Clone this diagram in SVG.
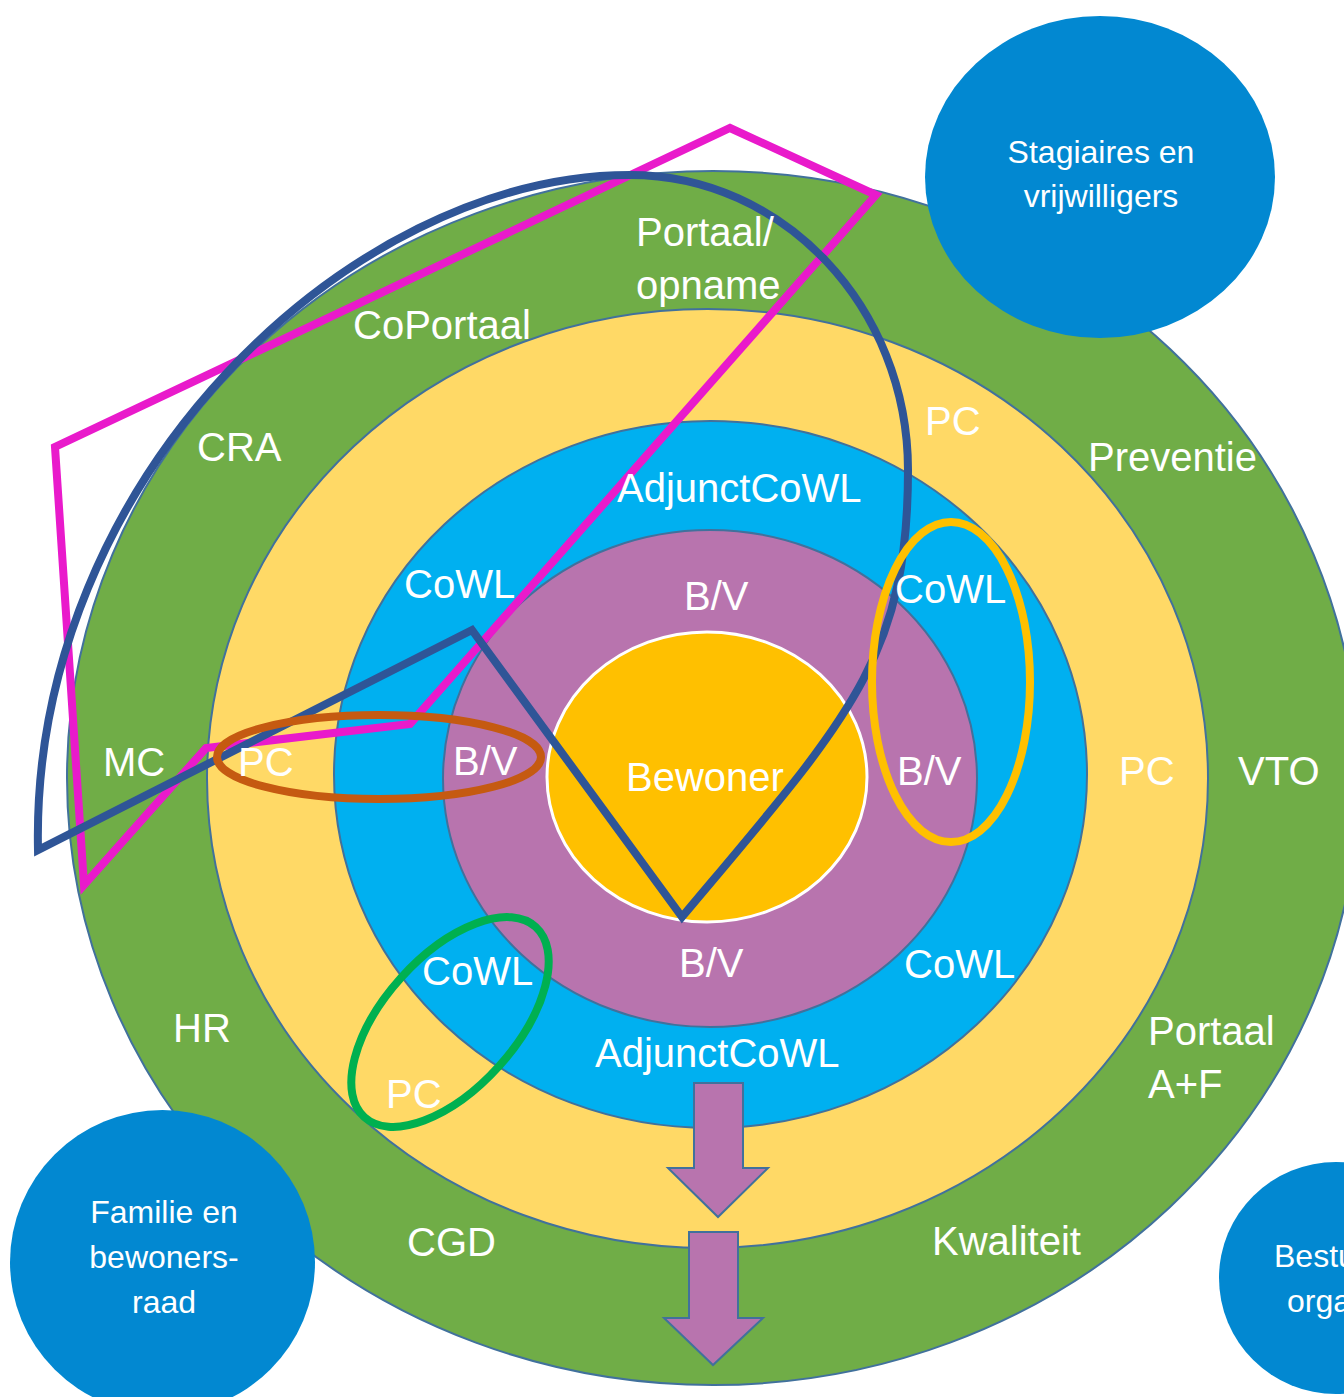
<svg xmlns="http://www.w3.org/2000/svg" width="1344" height="1397" viewBox="0 0 1344 1397">
<style>
.ring{stroke:#41719C;stroke-width:2}
.lbl{font-family:"Liberation Sans",Arial,sans-serif;font-size:40px;fill:#ffffff}
.clbl{font-family:"Liberation Sans",Arial,sans-serif;font-size:32px;fill:#ffffff;text-anchor:middle}
.ov{fill:none;stroke-width:8;stroke-linejoin:miter;stroke-miterlimit:20}
.arrow{fill:#B874AE;stroke:#41719C;stroke-width:2}
.ext{fill:#0288D1}
</style>
<rect width="1344" height="1397" fill="#ffffff"/>
<g id="ring-green"><ellipse class="ring" cx="713" cy="778" rx="646" ry="607" fill="#70AD47"/></g>
<g id="ring-yellow"><ellipse class="ring" cx="707.5" cy="778.5" rx="500.5" ry="469.5" fill="#FFD966"/></g>
<g id="ring-blue"><ellipse class="ring" cx="710.5" cy="774.5" rx="376.5" ry="353.5" fill="#00B0F0"/></g>
<g id="ring-purple"><ellipse class="ring" cx="710" cy="778.5" rx="267" ry="248.5" fill="#B874AE"/></g>
<g id="bewoner"><ellipse cx="707" cy="777" rx="160" ry="145" fill="#FFC000" stroke="#ffffff" stroke-width="3"/></g>
<g id="stagiaires"><ellipse class="ext" cx="1100" cy="177" rx="175" ry="161"/></g>
<g id="familie"><ellipse class="ext" cx="162.5" cy="1262" rx="152.5" ry="152"/></g>
<g id="bestuur"><ellipse class="ext" cx="1336" cy="1278" rx="117" ry="116"/></g>
<g id="arrows">
<polygon class="arrow" points="694,1083 743,1083 743,1168 768,1168 718,1217 668,1168 694,1168"/>
<polygon class="arrow" points="689,1232 738,1232 738,1318 763,1318 713,1365 664,1318 689,1318"/>
</g>
<g id="connectors">
<polygon class="ov" stroke="#E91ACB" points="730,128 876,195 410,724 206,748 84,885 55,447"/>
<path class="ov" stroke="#2F5597" stroke-width="9" d="M682,917 L472,630 L38,850 C30,480 350,175 630,175 C783,175 908,307 908,470 C908,660 848,719 682,917 Z"/>
<ellipse class="ov" stroke="#C55A11" cx="379" cy="757" rx="162" ry="42"/>
<ellipse class="ov" stroke="#FFC000" cx="951" cy="682" rx="79" ry="160"/>
<ellipse class="ov" stroke="#00B050" cx="450" cy="1022" rx="128" ry="66" transform="rotate(-48 450 1022)"/>
</g>
<g id="labels" class="lbl">
<text x="636" y="246">Portaal/</text>
<text x="636" y="299">opname</text>
<text x="353" y="339">CoPortaal</text>
<text x="197" y="461">CRA</text>
<text x="103" y="776">MC</text>
<text x="238" y="776">PC</text>
<text x="453" y="775">B/V</text>
<text x="404" y="598">CoWL</text>
<text x="617" y="502">AdjunctCoWL</text>
<text x="925" y="435">PC</text>
<text x="1088" y="471">Preventie</text>
<text x="684" y="610">B/V</text>
<text x="895" y="603">CoWL</text>
<text x="626" y="791">Bewoner</text>
<text x="897" y="785">B/V</text>
<text x="1119" y="785">PC</text>
<text x="1238" y="785">VTO</text>
<text x="422" y="985">CoWL</text>
<text x="679" y="977">B/V</text>
<text x="904" y="978">CoWL</text>
<text x="595" y="1067">AdjunctCoWL</text>
<text x="386" y="1108">PC</text>
<text x="173" y="1042">HR</text>
<text x="407" y="1256">CGD</text>
<text x="1148" y="1045">Portaal</text>
<text x="1148" y="1098">A+F</text>
<text x="932" y="1255">Kwaliteit</text>
</g>
<g id="ext-labels" class="clbl">
<text x="1101" y="163">Stagiaires en</text>
<text x="1101" y="207">vrijwilligers</text>
<text x="164" y="1223">Familie en</text>
<text x="164" y="1268">bewoners-</text>
<text x="164" y="1313">raad</text>
<text x="1274" y="1267" text-anchor="start">Bestu</text>
<text x="1287" y="1312" text-anchor="start">orga</text>
</g>
</svg>
